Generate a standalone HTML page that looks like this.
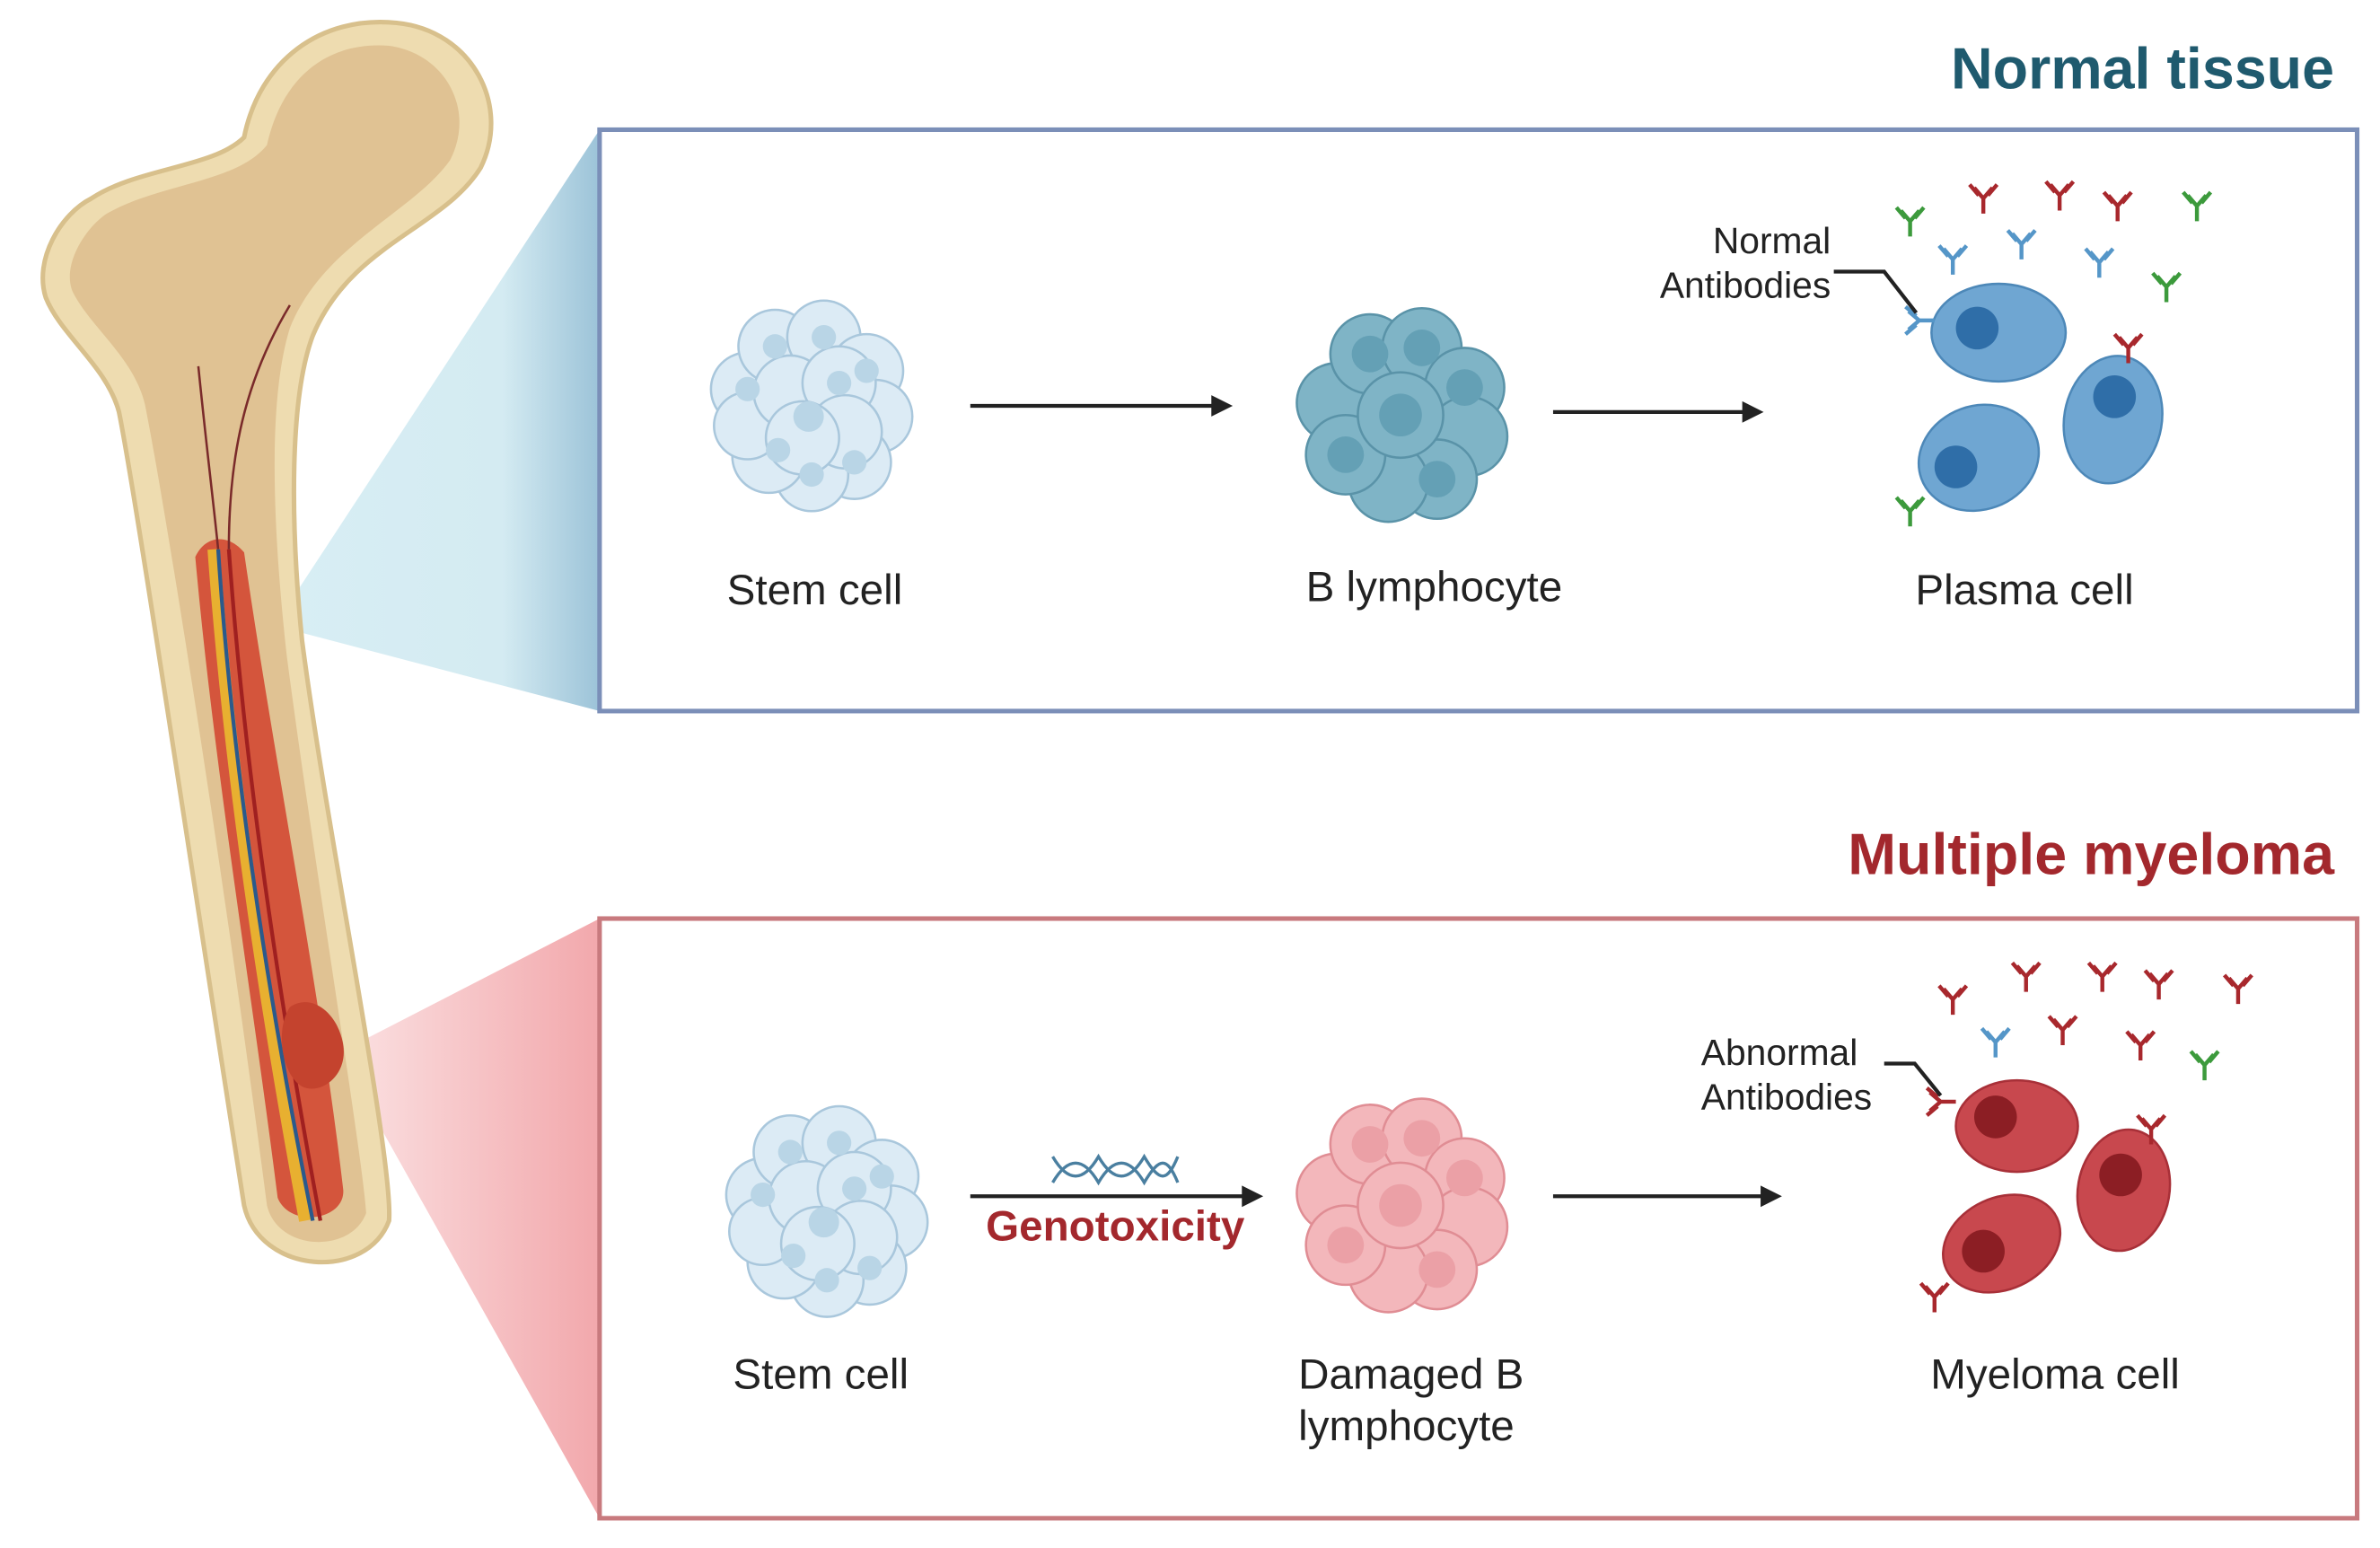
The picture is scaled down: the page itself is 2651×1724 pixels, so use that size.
<!DOCTYPE html>
<html><head><meta charset="utf-8"><style>
html,body{margin:0;padding:0;background:#fff;}
svg{display:block;}
text{font-family:"Liberation Sans",sans-serif;}
</style></head><body>
<svg width="2651" height="1724" viewBox="0 0 1560 1014.5" xmlns="http://www.w3.org/2000/svg">
<defs>
<linearGradient id="gb" x1="0" x2="1" y1="0" y2="0"><stop offset="0" stop-color="#d8eef4"/><stop offset="0.7" stop-color="#d4ebf2"/><stop offset="1" stop-color="#9cc3d8"/></linearGradient>
<linearGradient id="gr" x1="0" x2="1" y1="0" y2="0"><stop offset="0" stop-color="#fbe2e3"/><stop offset="1" stop-color="#f2a8ac"/></linearGradient>
<g id="ab"><path d="M0,10 V0 M0,0 L-6,-7 M0,0 L6,-7 M-3,-2 L-9,-9 M3,-2 L9,-9" stroke-width="2.6" fill="none"/></g>
<g id="stem">
<g fill="#dcebf5" stroke="#a9c7dc" stroke-width="1.5">
<circle cx="-40" cy="-10" r="24"/><circle cx="-22" cy="-38" r="24"/><circle cx="10" cy="-44" r="24"/><circle cx="38" cy="-22" r="24"/><circle cx="44" cy="8" r="24"/><circle cx="30" cy="38" r="24"/><circle cx="2" cy="46" r="24"/><circle cx="-26" cy="34" r="24"/><circle cx="-40" cy="14" r="22"/><circle cx="-12" cy="-8" r="24"/><circle cx="20" cy="-14" r="24"/><circle cx="24" cy="18" r="24"/><circle cx="-4" cy="22" r="24"/>
</g>
<g fill="#b9d5e6"><circle cx="-40" cy="-10" r="8"/><circle cx="-22" cy="-38" r="8"/><circle cx="10" cy="-44" r="8"/><circle cx="38" cy="-22" r="8"/><circle cx="30" cy="38" r="8"/><circle cx="2" cy="46" r="8"/><circle cx="-20" cy="30" r="8"/><circle cx="20" cy="-14" r="8"/><circle cx="0" cy="8" r="10"/></g>
</g>
</defs>
<!-- triangles -->
<polygon points="180,410 393,85 393,466" fill="url(#gb)"/>
<polygon points="222,690 393,602 393,995" fill="url(#gr)"/>
<!-- bone -->
<path d="M60,130 C40,140 22,170 30,195 C40,220 70,240 78,270 C90,330 130,600 160,790 C170,835 240,840 255,800 C258,760 215,550 198,420 C190,340 190,260 205,220 C230,160 290,150 315,110 C335,70 310,20 260,15 C210,10 170,40 160,90 C140,110 90,110 60,130Z" fill="#eedcb0" stroke="#d8c08c" stroke-width="3"/>
<path d="M70,140 C55,150 40,175 48,192 C60,215 88,235 95,265 C108,330 145,560 175,790 C182,820 230,822 240,795 C238,760 205,560 188,430 C178,340 176,260 190,215 C212,160 270,140 295,105 C312,72 292,35 255,30 C215,27 185,50 175,95 C155,120 105,120 70,140Z" fill="#dcbb8c" opacity="0.8"/>
<path d="M128,365 C135,350 150,350 160,362 C180,500 210,650 225,780 C226,800 190,805 182,785 C165,650 140,500 128,365Z" fill="#d4553c"/>
<path d="M140,360 C150,500 172,650 200,800" stroke="#e8b030" stroke-width="8" fill="none"/>
<path d="M143,360 C152,500 175,650 205,800" stroke="#2b5a8c" stroke-width="2.5" fill="none"/>
<path d="M150,360 C160,500 182,650 210,800" stroke="#a02020" stroke-width="2.5" fill="none"/>
<path d="M130,240 C135,290 140,330 143,360 M150,360 C150,300 160,250 190,200" stroke="#7a2a2a" stroke-width="1.5" fill="none"/>
<path d="M190,660 C205,650 222,665 225,685 C228,705 210,718 198,712 C185,705 180,675 190,660Z" fill="#c4432e"/>
<!-- titles -->
<text x="1530" y="58" text-anchor="end" font-size="38" font-weight="bold" fill="#1f5a6e">Normal tissue</text>
<text x="1530" y="573" text-anchor="end" font-size="38" font-weight="bold" fill="#a3282d">Multiple myeloma</text>
<!-- boxes -->
<rect x="393" y="85" width="1152" height="381" fill="none" stroke="#7b8fb8" stroke-width="3"/>
<rect x="393" y="602" width="1152" height="393" fill="none" stroke="#c87a7e" stroke-width="3"/>
<!-- top row -->
<use href="#stem" x="530" y="265"/>
<g transform="translate(918,272)">
<g fill="#7fb4c6" stroke="#5a93a8" stroke-width="1.5">
<circle cx="-42" cy="-8" r="26"/><circle cx="-20" cy="-40" r="26"/><circle cx="14" cy="-44" r="26"/><circle cx="42" cy="-18" r="26"/><circle cx="44" cy="14" r="26"/><circle cx="24" cy="42" r="26"/><circle cx="-8" cy="44" r="26"/><circle cx="-36" cy="26" r="26"/><circle cx="0" cy="0" r="28"/></g>
<g fill="#64a0b5"><circle cx="-20" cy="-40" r="12"/><circle cx="14" cy="-44" r="12"/><circle cx="42" cy="-18" r="12"/><circle cx="24" cy="42" r="12"/><circle cx="-36" cy="26" r="12"/><circle cx="0" cy="0" r="14"/></g>
</g>
<g stroke="#222" stroke-width="2.5"><line x1="636" y1="266" x2="796" y2="266"/><line x1="1018" y1="270" x2="1144" y2="270"/></g>
<polygon points="808,266 794,259 794,273" fill="#222"/><polygon points="1156,270 1142,263 1142,277" fill="#222"/>
<g fill="#6fa6d2" stroke="#4d88b8" stroke-width="1.5">
<ellipse cx="1310" cy="218" rx="44" ry="32"/><ellipse cx="1297" cy="300" rx="40" ry="34" transform="rotate(-20 1297 300)"/><ellipse cx="1385" cy="275" rx="32" ry="42" transform="rotate(10 1385 275)"/></g>
<g fill="#2f6ea8"><circle cx="1296" cy="215" r="14"/><circle cx="1282" cy="306" r="14"/><circle cx="1386" cy="260" r="14"/></g>
<g stroke="#5596c8"><use href="#ab" x="1258" y="210" transform="rotate(-90 1258 210)"/><use href="#ab" x="1280" y="170"/><use href="#ab" x="1325" y="160"/><use href="#ab" x="1376" y="172"/></g>
<g stroke="#a8282d"><use href="#ab" x="1300" y="130"/><use href="#ab" x="1350" y="128"/><use href="#ab" x="1388" y="135"/><use href="#ab" x="1395" y="228"/></g>
<g stroke="#3c9a3c"><use href="#ab" x="1252" y="145"/><use href="#ab" x="1440" y="135"/><use href="#ab" x="1420" y="188"/><use href="#ab" x="1252" y="335"/></g>
<polyline points="1202,178 1235,178 1256,205" stroke="#222" stroke-width="2.5" fill="none"/>
<g font-size="24" fill="#222" text-anchor="end"><text x="1200" y="166">Normal</text><text x="1200" y="195">Antibodies</text></g>
<g font-size="28" fill="#222" text-anchor="middle"><text x="534" y="396">Stem cell</text><text x="940" y="394">B lymphocyte</text><text x="1327" y="396">Plasma cell</text></g>
<!-- bottom row -->
<use href="#stem" x="540" y="793"/>
<g transform="translate(918,790)">
<g fill="#f3b7bb" stroke="#e08d94" stroke-width="1.5">
<circle cx="-42" cy="-8" r="26"/><circle cx="-20" cy="-40" r="26"/><circle cx="14" cy="-44" r="26"/><circle cx="42" cy="-18" r="26"/><circle cx="44" cy="14" r="26"/><circle cx="24" cy="42" r="26"/><circle cx="-8" cy="44" r="26"/><circle cx="-36" cy="26" r="26"/><circle cx="0" cy="0" r="28"/></g>
<g fill="#eba0a6"><circle cx="-20" cy="-40" r="12"/><circle cx="14" cy="-44" r="12"/><circle cx="42" cy="-18" r="12"/><circle cx="24" cy="42" r="12"/><circle cx="-36" cy="26" r="12"/><circle cx="0" cy="0" r="14"/></g>
</g>
<g stroke="#222" stroke-width="2.5"><line x1="636" y1="784" x2="816" y2="784"/><line x1="1018" y1="784" x2="1156" y2="784"/></g>
<polygon points="828,784 814,777 814,791" fill="#222"/><polygon points="1168,784 1154,777 1154,791" fill="#222"/>
<path d="M690,758 C700,775 710,775 720,758 C730,775 740,775 750,758 C760,775 765,775 772,758 M690,775 C700,758 710,758 720,775 C730,758 740,758 750,775 C760,758 765,758 772,775" stroke="#4a7fa0" stroke-width="2" fill="none"/>
<text x="731" y="813" text-anchor="middle" font-size="28" font-weight="bold" fill="#a3282d">Genotoxicity</text>
<g fill="#c8484e" stroke="#a83038" stroke-width="1.5">
<ellipse cx="1322" cy="738" rx="40" ry="30"/><ellipse cx="1312" cy="815" rx="40" ry="30" transform="rotate(-25 1312 815)"/><ellipse cx="1392" cy="780" rx="30" ry="40" transform="rotate(10 1392 780)"/></g>
<g fill="#8c1e24"><circle cx="1308" cy="732" r="14"/><circle cx="1300" cy="820" r="14"/><circle cx="1390" cy="770" r="14"/></g>
<g stroke="#a8282d"><use href="#ab" x="1272" y="722" transform="rotate(-90 1272 722)"/><use href="#ab" x="1280" y="655"/><use href="#ab" x="1328" y="640"/><use href="#ab" x="1378" y="640"/><use href="#ab" x="1415" y="645"/><use href="#ab" x="1467" y="648"/><use href="#ab" x="1352" y="675"/><use href="#ab" x="1403" y="685"/><use href="#ab" x="1410" y="740"/><use href="#ab" x="1268" y="850"/></g>
<g stroke="#5596c8"><use href="#ab" x="1308" y="683"/></g>
<g stroke="#3c9a3c"><use href="#ab" x="1445" y="698"/></g>
<polyline points="1235,697 1255,697 1272,718" stroke="#222" stroke-width="2.5" fill="none"/>
<g font-size="24" fill="#222"><text x="1115" y="698">Abnormal</text><text x="1115" y="727">Antibodies</text></g>
<g font-size="28" fill="#222"><text x="538" y="910" text-anchor="middle">Stem cell</text><text x="851" y="910">Damaged B</text><text x="851" y="944">lymphocyte</text><text x="1347" y="910" text-anchor="middle">Myeloma cell</text></g>
</svg>
</body></html>
